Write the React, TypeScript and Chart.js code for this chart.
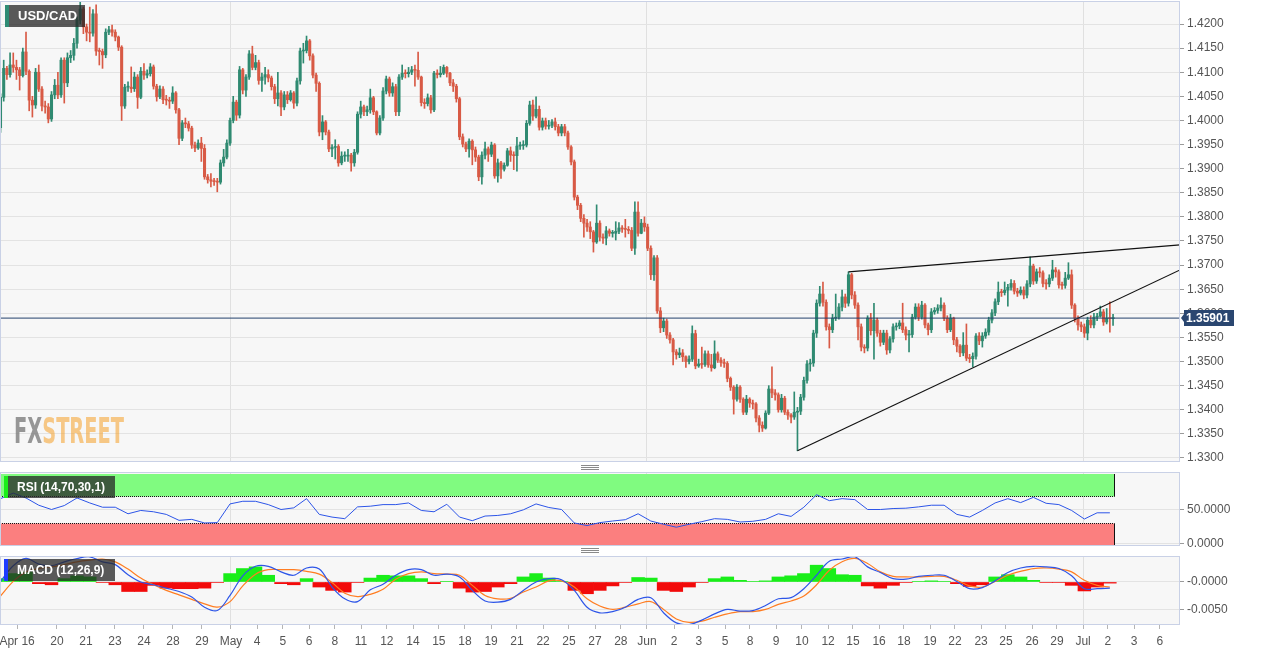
import React, { useEffect, useRef } from 'react';
import { Chart, registerables } from 'chart.js';

Chart.register(...registerables);

// ---------------- DATA ----------------
const symbol = 'USD/CAD';
const firstOpen = 1.3985;

const closes = [
  1.4048,1.4108,1.4095,1.4115,1.4110,1.4105,1.4093,1.4142,1.4102,1.4042,
  1.4032,1.4100,1.4065,1.4030,1.4028,1.4003,1.4053,1.4073,1.4053,1.4125,
  1.4078,1.4130,1.4135,1.4160,1.4208,1.4231,1.4194,1.4183,1.4181,1.4221,
  1.4144,1.4143,1.4136,1.4183,1.4188,1.4183,1.4173,1.4152,1.4030,1.4069,
  1.4069,1.4066,1.4090,1.4048,1.4102,1.4094,1.4097,1.4111,1.4071,1.4049,
  1.4065,1.4043,1.4042,1.4040,1.4057,1.4022,1.3963,1.3995,1.3993,1.3984,
  1.3949,1.3943,1.3953,1.3942,1.3883,1.3877,1.3874,1.3873,1.3872,1.3912,
  1.3924,1.3953,1.4000,1.4038,
  1.4011,1.4105,1.4063,1.4090,1.4138,1.4110,1.4120,1.4083,1.4090,1.4095,
  1.4088,1.4070,1.4045,1.4057,1.4028,1.4053,1.4043,1.4057,1.4036,1.4082,
  1.4144,1.4145,1.4165,1.4134,1.4094,1.4077,1.3976,1.3997,1.3976,1.3941,
  1.3944,1.3946,1.3912,1.3926,1.3926,1.3928,1.3912,1.3934,1.4013,1.4028,
  1.4018,1.4022,1.4047,1.4018,1.3974,1.4005,1.4061,1.4086,1.4057,1.4070,
  1.4018,1.4090,1.4098,1.4097,1.4100,1.4105,1.4104,1.4090,1.4037,1.4035,
  1.4047,1.4022,1.4098,1.4095,1.4098,1.4110,1.4098,1.4078,1.4071,1.4045,
  1.3966,
  1.3951,1.3941,1.3957,1.3939,1.3924,1.3883,1.3928,1.3941,1.3930,1.3949,
  1.3885,1.3912,1.3899,1.3907,1.3937,1.3928,1.3927,1.3947,1.3948,1.3949,
  1.3994,1.4032,1.4009,1.4023,1.3986,1.3999,1.3988,1.3990,1.3997,1.3987,
  1.3974,1.3987,1.3974,1.3945,1.3914,1.3841,1.3824,1.3797,1.3787,1.3779,
  1.3769,1.3748,1.3787,1.3758,1.3756,1.3771,1.3766,1.3766,1.3770,1.3777,
  1.3775,1.3774,1.3772,1.3735,1.3810,1.3766,1.3787,1.3779,1.3735,1.3680,
  1.3715,1.3605,1.3570,1.3584,1.3555,1.3545,1.3520,1.3514,1.3518,1.3510,
  1.3500,1.3505,
  1.3558,1.3491,1.3495,1.3494,1.3516,1.3493,1.3487,1.3516,1.3503,1.3498,
  1.3496,1.3465,1.3447,1.3422,1.3447,1.3422,1.3395,1.3422,1.3414,1.3412,
  1.3383,1.3368,1.3362,1.3393,1.3443,1.3435,1.3431,1.3400,1.3424,1.3395,
  1.3389,1.3385,1.3395,1.3397,1.3426,1.3461,1.3495,1.3497,1.3559,1.3621,
  1.3640,1.3623,1.3572,1.3566,1.3590,1.3592,1.3613,1.3634,1.3621,1.3680,
  1.3638,1.3617,1.3572,1.3530,1.3528,1.3590,1.3564,1.3586,1.3559,1.3540,
  1.3559,1.3524,1.3547,1.3572,1.3574,1.3580,1.3566,1.3555,1.3556,1.3592,
  1.3613,1.3592,
  1.3617,1.3576,1.3566,1.3603,1.3606,1.3611,1.3617,1.3590,1.3566,1.3590,
  1.3545,1.3532,1.3518,1.3534,1.3507,1.3506,1.3511,1.3553,1.3543,1.3553,
  1.3561,1.3586,1.3601,1.3624,1.3644,1.3643,1.3648,1.3654,1.3662,1.3646,
  1.3642,1.3648,1.3638,1.3661,1.3698,1.3667,1.3686,1.3684,1.3662,1.3661,
  1.3673,1.3690,1.3686,1.3659,1.3658,1.3673,1.3680,1.3617,1.3590,1.3576,
  1.3572,1.3559,1.3586,1.3576,1.3592,1.3594,1.3603,1.3582,1.3590,1.3589,
  1.35901,
];

const highs = [
  1.4055,1.4125,1.4112,1.4140,1.4140,1.4125,1.4110,1.4150,1.4183,1.4105,
  1.4050,1.4108,1.4115,1.4070,1.4040,1.4035,1.4060,1.4085,1.4100,1.4130,
  1.4130,1.4140,1.4145,1.4170,1.4215,1.4250,1.4235,1.4200,1.4235,1.4230,
  1.4240,1.4150,1.4148,1.4190,1.4195,1.4198,1.4188,1.4175,1.4155,1.4075,
  1.4080,1.4111,1.4100,1.4095,1.4110,1.4118,1.4105,1.4118,1.4115,1.4075,
  1.4072,1.4070,1.4052,1.4048,1.4070,1.4060,1.4025,1.4000,1.4005,1.3998,
  1.3988,1.3955,1.3960,1.3965,1.3950,1.3888,1.3890,1.3880,1.3880,1.3918,
  1.3940,1.3960,1.4005,1.4050,
  1.4042,1.4112,1.4108,1.4095,1.4145,1.4154,1.4135,1.4125,1.4098,1.4110,
  1.4105,1.4092,1.4075,1.4100,1.4062,1.4060,1.4060,1.4062,1.4060,1.4088,
  1.4150,1.4160,1.4175,1.4168,1.4138,1.4098,1.4080,1.4010,1.4000,1.3980,
  1.3950,1.3960,1.3950,1.3935,1.3935,1.3940,1.3932,1.3940,1.4018,1.4040,
  1.4032,1.4030,1.4065,1.4050,1.4020,1.4010,1.4068,1.4092,1.4090,1.4078,
  1.4075,1.4095,1.4115,1.4105,1.4110,1.4112,1.4115,1.4142,1.4092,1.4045,
  1.4055,1.4052,1.4102,1.4105,1.4112,1.4115,1.4112,1.4100,1.4085,1.4075,
  1.4048,
  1.3972,1.3955,1.3962,1.3960,1.3945,1.3928,1.3935,1.3955,1.3945,1.3955,
  1.3952,1.3920,1.3915,1.3912,1.3942,1.3945,1.3935,1.3965,1.3955,1.3958,
  1.4000,1.4040,1.4042,1.4049,1.4030,1.4005,1.4005,1.4000,1.4002,1.4005,
  1.3992,1.3992,1.3992,1.3978,1.3948,1.3918,1.3845,1.3828,1.3805,1.3795,
  1.3790,1.3772,1.3825,1.3792,1.3765,1.3780,1.3775,1.3772,1.3790,1.3788,
  1.3782,1.3795,1.3780,1.3778,1.3831,1.3831,1.3795,1.3800,1.3785,1.3740,
  1.3720,1.3720,1.3612,1.3590,1.3588,1.3560,1.3548,1.3525,1.3528,1.3525,
  1.3512,1.3512,
  1.3574,1.3565,1.3505,1.3530,1.3522,1.3522,1.3515,1.3543,1.3520,1.3508,
  1.3505,1.3500,1.3468,1.3450,1.3452,1.3450,1.3425,1.3430,1.3425,1.3420,
  1.3415,1.3388,1.3375,1.3398,1.3450,1.3489,1.3442,1.3435,1.3432,1.3428,
  1.3400,1.3392,1.3437,1.3405,1.3432,1.3468,1.3502,1.3505,1.3565,1.3628,
  1.3656,1.3665,1.3628,1.3578,1.3598,1.3640,1.3620,1.3648,1.3640,1.3686,
  1.3683,1.3645,1.3622,1.3578,1.3535,1.3595,1.3600,1.3621,1.3590,1.3565,
  1.3565,1.3565,1.3552,1.3578,1.3580,1.3585,1.3621,1.3572,1.3565,1.3598,
  1.3620,1.3620,
  1.3625,1.3620,1.3580,1.3610,1.3612,1.3618,1.3632,1.3622,1.3595,1.3598,
  1.3592,1.3550,1.3535,1.3560,1.3578,1.3515,1.3518,1.3558,1.3560,1.3560,
  1.3568,1.3592,1.3608,1.3630,1.3665,1.3650,1.3665,1.3660,1.3670,1.3668,
  1.3652,1.3655,1.3655,1.3668,1.3717,1.3702,1.3692,1.3695,1.3688,1.3670,
  1.3680,1.3710,1.3695,1.3690,1.3665,1.3685,1.3705,1.3690,1.3620,1.3595,
  1.3582,1.3578,1.3592,1.3595,1.3600,1.3600,1.3615,1.3608,1.3610,1.3624,
  1.3598,
];

const lows = [
  1.3975,1.4040,1.4085,1.4090,1.4100,1.4085,1.4063,1.4090,1.4095,1.4020,
  1.4007,1.4025,1.4060,1.4020,1.4015,1.3995,1.3998,1.4045,1.4045,1.4048,
  1.4036,1.4070,1.4120,1.4125,1.4150,1.4200,1.4180,1.4165,1.4163,1.4175,
  1.4135,1.4115,1.4108,1.4130,1.4178,1.4175,1.4165,1.4145,1.4000,1.4025,
  1.4060,1.4058,1.4060,1.4025,1.4045,1.4085,1.4088,1.4092,1.4065,1.4040,
  1.4045,1.4035,1.4032,1.4025,1.4035,1.4015,1.3950,1.3958,1.3985,1.3978,
  1.3942,1.3935,1.3940,1.3915,1.3878,1.3870,1.3862,1.3865,1.3852,1.3868,
  1.3905,1.3920,1.3948,1.3995,
  1.4000,1.4005,1.4055,1.4050,1.4085,1.4105,1.4105,1.4075,1.4060,1.4075,
  1.4080,1.4063,1.4035,1.4030,1.4010,1.4022,1.4035,1.4040,1.4025,1.4030,
  1.4075,1.4119,1.4140,1.4125,1.4088,1.4060,1.3968,1.3960,1.3970,1.3935,
  1.3925,1.3920,1.3905,1.3908,1.3915,1.3915,1.3895,1.3905,1.3930,1.4005,
  1.4010,1.4010,1.4015,1.4012,1.3970,1.3970,1.4000,1.4055,1.4050,1.4050,
  1.4010,1.4010,1.4085,1.4088,1.4090,1.4095,1.4071,1.4085,1.4030,1.4025,
  1.4030,1.4015,1.4018,1.4088,1.4090,1.4095,1.4090,1.4072,1.4060,1.4038,
  1.3960,
  1.3945,1.3935,1.3924,1.3908,1.3915,1.3875,1.3868,1.3920,1.3915,1.3925,
  1.3880,1.3872,1.3880,1.3895,1.3905,1.3915,1.3898,1.3895,1.3940,1.3940,
  1.3945,1.3990,1.4000,1.4005,1.3980,1.3980,1.3982,1.3982,1.3985,1.3980,
  1.3968,1.3968,1.3968,1.3940,1.3908,1.3835,1.3815,1.3790,1.3758,1.3770,
  1.3755,1.3727,1.3745,1.3750,1.3745,1.3742,1.3760,1.3758,1.3752,1.3765,
  1.3768,1.3758,1.3765,1.3730,1.3722,1.3760,1.3765,1.3770,1.3730,1.3670,
  1.3668,1.3600,1.3560,1.3562,1.3548,1.3538,1.3493,1.3505,1.3508,1.3500,
  1.3488,1.3495,
  1.3500,1.3485,1.3488,1.3486,1.3490,1.3488,1.3480,1.3485,1.3498,1.3490,
  1.3488,1.3458,1.3440,1.3391,1.3418,1.3415,1.3390,1.3390,1.3405,1.3402,
  1.3375,1.3354,1.3355,1.3360,1.3390,1.3425,1.3420,1.3395,1.3395,1.3390,
  1.3380,1.3373,1.3380,1.3315,1.3390,1.3420,1.3455,1.3480,1.3490,1.3550,
  1.3615,1.3615,1.3565,1.3528,1.3560,1.3585,1.3588,1.3605,1.3612,1.3615,
  1.3630,1.3610,1.3545,1.3522,1.3518,1.3522,1.3555,1.3505,1.3552,1.3532,
  1.3535,1.3515,1.3518,1.3540,1.3565,1.3568,1.3560,1.3545,1.3520,1.3550,
  1.3588,1.3585,
  1.3588,1.3570,1.3555,1.3560,1.3598,1.3600,1.3605,1.3585,1.3560,1.3562,
  1.3535,1.3520,1.3510,1.3512,1.3502,1.3498,1.3489,1.3505,1.3535,1.3530,
  1.3548,1.3555,1.3580,1.3595,1.3618,1.3635,1.3638,1.3615,1.3648,1.3640,
  1.3635,1.3638,1.3630,1.3632,1.3655,1.3660,1.3662,1.3675,1.3655,1.3650,
  1.3655,1.3668,1.3675,1.3652,1.3650,1.3652,1.3670,1.3610,1.3582,1.3565,
  1.3562,1.3550,1.3545,1.3570,1.3570,1.3585,1.3592,1.3575,1.3578,1.3561,
  1.3575,
];

// Price axis ticks
const priceTicks = [
  1.33, 1.335, 1.34, 1.345, 1.35, 1.355, 1.36, 1.365, 1.37, 1.375,
  1.38, 1.385, 1.39, 1.395, 1.4, 1.405, 1.41, 1.415, 1.42,
];

// Time axis labels and their positions (in candle index units)
const timeLabels = [
  'Apr 16','20','21','23','24','28','29','May','4','5','6','8','11','12','14','15',
  '18','19','21','22','25','27','28','Jun','2','3','5','8','9','10','12','15','16',
  '18','19','22','23','25','26','29','Jul','2','3','6',
];
const timePositions = [
  5.2, 17.7, 26.8, 35.9, 45.0, 54.1, 63.2, 72.3, 80.5, 88.6, 96.8, 104.9, 113.1, 121.2, 129.4, 137.5,
  145.7, 153.9, 162.0, 170.2, 178.3, 186.5, 194.6, 202.8, 211.3, 219.1, 227.3, 235.1, 243.3, 251.4, 259.6, 267.4, 275.6,
  283.4, 291.6, 299.4, 307.6, 315.4, 323.6, 331.4, 339.6, 347.4, 355.6, 363.7,
];
const monthLabels = ['May', 'Jun', 'Jul'];

// Trend lines (candle index, price)
const upperTrendTimes = [266, 370];
const upperTrendPrices = [1.3686, 1.3742];
const lowerTrendTimes = [250, 370];
const lowerTrendPrices = [1.3315, 1.3690];

// Indicators, sampled every `indicatorStep` candles
const indicatorStep = 4;
const rsiLabel = 'RSI (14,70,30,1)';
const rsiUpper = 70;
const rsiLower = 30;
const rsiValues = [
  65.7,73.8,66.7,56.2,50,55.7,66.7,59.5,53.3,53.3,
  43.8,48.6,46.7,42.9,34.3,35.7,30.5,31,58.1,61.9,
  61.9,57.1,50,52.4,65.7,42.9,39,36.7,53.8,54.8,
  57.1,57.1,59.5,48.6,46.7,57.6,39,33.8,40.5,41.4,
  43.8,49.5,58.1,52.9,50,30.5,26.7,31,33.3,35.2,
  43.8,33.3,28.6,24.3,28.6,32.4,36.7,35.7,31.9,32.9,
  35.7,43.8,40,53.3,71.4,62.8,65.7,64.3,50,50,
  51.4,51.9,53.8,56.2,56.2,42.9,39,48.6,59.5,65.7,
  60,67.6,59,57.1,48.6,36.2,45.2,45.2,
];
const rsiTicks = [0, 50];

const macdLabel = 'MACD (12,26,9)';
const macdValues = [
  0.0001,0.0029,0.0042,0.0032,0.0029,0.0036,0.0042,0.0045,0.0036,0.0031,
  0.0013,0.0000,-0.0005,-0.0011,-0.0017,-0.0027,-0.0045,-0.0051,-0.0024,0.0011,
  0.0028,0.0028,0.0018,0.0012,0.0025,0.0023,-0.0009,-0.0030,-0.0035,-0.0014,
  -0.0004,0.0012,0.0022,0.0022,0.0012,0.0014,0.0009,-0.0015,-0.0034,-0.0036,
  -0.0031,-0.0015,0.0000,0.0006,0.0004,-0.0015,-0.0045,-0.0055,-0.0053,-0.0045,
  -0.0031,-0.0028,-0.0055,-0.0073,-0.0076,-0.0068,-0.0057,-0.0049,-0.0052,-0.0051,
  -0.0042,-0.0030,-0.0028,-0.0012,0.0012,0.0037,0.0041,0.0045,0.0027,0.0017,
  0.0006,0.0005,0.0010,0.0012,0.0012,0.0001,-0.0012,-0.0010,0.0002,0.0017,
  0.0025,0.0028,0.0027,0.0024,0.0011,-0.0012,-0.0012,-0.0011,
];
const signalValues = [
  -0.0025,0.0001,0.0018,0.0024,0.0027,0.0031,0.0036,0.0039,0.0041,0.0036,
  0.0023,0.0007,-0.0005,-0.0015,-0.0023,-0.0031,-0.0039,-0.0045,-0.0035,-0.0007,
  0.0014,0.0022,0.0022,0.0022,0.0019,0.0014,-0.0001,-0.0020,-0.0026,-0.0022,
  -0.0013,0.0005,0.0015,0.0018,0.0015,0.0014,0.0012,-0.0006,-0.0024,-0.0030,
  -0.0029,-0.0018,-0.0009,0.0002,0.0002,-0.0009,-0.0030,-0.0043,-0.0049,-0.0045,
  -0.0039,-0.0035,-0.0049,-0.0066,-0.0072,-0.0070,-0.0063,-0.0057,-0.0053,-0.0053,
  -0.0049,-0.0040,-0.0034,-0.0025,-0.0005,0.0021,0.0036,0.0042,0.0033,0.0018,
  0.0010,0.0009,0.0009,0.0010,0.0010,0.0003,-0.0007,-0.0009,0.0001,0.0012,
  0.0019,0.0024,0.0025,0.0023,0.0018,0.0003,-0.0006,-0.0009,
];
const histValues = [
  0.0006,0.0015,0.0018,-0.0003,-0.0005,0.0006,0.0011,0.0009,-0.0001,-0.0005,
  -0.0017,-0.0017,-0.0006,-0.0011,-0.0012,-0.0012,-0.0011,-0.0001,0.0015,0.0024,
  0.0027,0.0012,-0.0003,-0.0005,0.0006,-0.0009,-0.0015,-0.0018,-0.0001,0.0007,
  0.0012,0.0011,0.0011,0.0006,-0.0003,0.0001,-0.0011,-0.0018,-0.0017,-0.0009,
  -0.0003,0.0009,0.0015,0.0007,0.0001,-0.0015,-0.0021,-0.0015,-0.0007,-0.0001,
  0.0008,0.0007,-0.0015,-0.0017,-0.0009,-0.0001,0.0006,0.0009,0.0003,0.0001,
  0.0002,0.0009,0.0011,0.0015,0.0030,0.0024,0.0013,0.0012,-0.0007,-0.0011,
  -0.0006,-0.0001,0.0001,0.0002,0.0001,-0.0003,-0.0008,-0.0005,0.0009,0.0013,
  0.0009,0.0003,-0.0001,-0.0001,-0.0006,-0.0016,-0.0009,-0.0002,
];
const macdTicks = [0, -0.005];
const macdTickLabels = ['-0.0000', '-0.0050'];

// ---------------- STYLE / LAYOUT ----------------
const W = 1269;
const X_MIN = -0.16;
const X_MAX = 370;
const PRICE_MIN = 1.32917;
const PRICE_MAX = 1.42477;
const RSI_MIN = -2.9;
const RSI_MAX = 104.35;
const MACD_MIN = -0.00768;
const MACD_MAX = 0.00464;
const AXIS_W = 89;
const FONT = '"Liberation Sans", Arial, Helvetica, sans-serif';
const TICK_COLOR = '#555555';
const GRID = '#e3e3e3';
const FRAME = '#c9d1e6';
const PANEL_BG = '#f7f7f7';
const UP = '#2f8a71';
const DOWN = '#d85a45';
const BLUE = '#2d55e8';
const ORANGE = '#ff7d22';

const fitY = (s: any) => {
  s.width = AXIS_W;
  s.paddingTop = 0;
  s.paddingBottom = 0;
};
const hiddenX = (s: any) => {
  s.height = 0;
  s.paddingLeft = 0;
  s.paddingRight = 0;
};
const setTimeTicks = (s: any) => {
  s.ticks = timePositions.map((v) => ({ value: v }));
};
const monthGrid = (c: any) =>
  monthLabels.includes(timeLabels[c.index]) ? '#e0e0e0' : 'rgba(0,0,0,0)';

const panelPlugin = {
  id: 'panelBg',
  beforeDraw(chart: any) {
    const { ctx, chartArea: a } = chart;
    ctx.save();
    ctx.fillStyle = PANEL_BG;
    ctx.fillRect(a.left, a.top, a.right - a.left, a.bottom - a.top);
    ctx.restore();
  },
  afterDraw(chart: any) {
    const { ctx, chartArea: a } = chart;
    ctx.save();
    ctx.strokeStyle = FRAME;
    ctx.lineWidth = 1;
    ctx.strokeRect(a.left + 0.5, a.top + 0.5, a.right - a.left - 1, a.bottom - a.top - 1);
    ctx.restore();
  },
};

const baseOptions = {
  animation: false,
  responsive: false,
  maintainAspectRatio: false,
  events: [],
  plugins: { legend: { display: false }, tooltip: { enabled: false } },
};

const yTickOpts = {
  color: TICK_COLOR,
  font: { family: FONT, size: 12 },
  padding: 3,
  autoSkip: false,
};

export default function App() {
  const mainRef = useRef<HTMLCanvasElement>(null);
  const rsiRef = useRef<HTMLCanvasElement>(null);
  const macdRef = useRef<HTMLCanvasElement>(null);

  useEffect(() => {
    const n = closes.length;
    const idx = closes.map((_, i) => i);
    const opens = closes.map((_, i) => (i === 0 ? firstOpen : closes[i - 1]));
    const colors = idx.map((i) => (closes[i] >= opens[i] ? UP : DOWN));
    const lastIndex = n - 1;
    const lastPrice = closes[lastIndex];

    const hiddenXScale = {
      type: 'linear',
      min: X_MIN,
      max: X_MAX,
      offset: false,
      afterBuildTicks: setTimeTicks,
      afterFit: hiddenX,
      ticks: { display: false },
      grid: { drawTicks: false, color: monthGrid, offset: false },
      border: { display: false },
    };

    const mainOverlay = {
      id: 'mainOverlay',
      beforeDatasetsDraw(chart: any) {
        const { ctx } = chart;
        ctx.save();
        ctx.font = 'bold 36px "DejaVu Sans Condensed", "Liberation Sans Narrow", "Liberation Sans", sans-serif';
        ctx.textBaseline = 'alphabetic';
        const fxW = ctx.measureText('FX').width;
        const stW = ctx.measureText('STREET').width;
        const sx = 110 / (fxW + stW);
        ctx.translate(14, 443);
        ctx.scale(sx, 1);
        ctx.fillStyle = 'rgba(125,125,125,0.8)';
        ctx.fillText('FX', 0, 0);
        ctx.fillStyle = 'rgba(245,160,40,0.55)';
        ctx.fillText('STREET', fxW, 0);
        ctx.restore();
      },
      afterDraw(chart: any) {
        const { ctx, chartArea: a, scales } = chart;
        const y = Math.round(scales.y.getPixelForValue(lastPrice));
        const x0 = a.right;
        ctx.save();
        ctx.fillStyle = '#2a4670';
        ctx.beginPath();
        ctx.moveTo(x0 + 1, y);
        ctx.lineTo(x0 + 4, y - 4);
        ctx.lineTo(x0 + 4, y - 8);
        ctx.lineTo(x0 + 54, y - 8);
        ctx.lineTo(x0 + 54, y + 8);
        ctx.lineTo(x0 + 4, y + 8);
        ctx.lineTo(x0 + 4, y + 4);
        ctx.closePath();
        ctx.fill();
        ctx.fillStyle = '#ffffff';
        ctx.font = `bold 12px ${FONT}`;
        ctx.textBaseline = 'middle';
        ctx.fillText(lastPrice.toFixed(5), x0 + 6, y + 1);
        ctx.restore();
      },
    };

    const main = new Chart(mainRef.current as HTMLCanvasElement, {
      type: 'bar',
      data: {
        datasets: [
          {
            type: 'line',
            data: [
              { x: X_MIN, y: lastPrice },
              { x: X_MAX, y: lastPrice },
            ],
            borderColor: '#23406c',
            borderWidth: 1,
            pointRadius: 0,
            order: 0,
          },
          {
            type: 'line',
            data: upperTrendTimes.map((t, i) => ({ x: t, y: upperTrendPrices[i] })),
            borderColor: '#111111',
            borderWidth: 1.2,
            pointRadius: 0,
            order: 0,
          },
          {
            type: 'line',
            data: lowerTrendTimes.map((t, i) => ({ x: t, y: lowerTrendPrices[i] })),
            borderColor: '#111111',
            borderWidth: 1.2,
            pointRadius: 0,
            order: 0,
          },
          {
            type: 'bar',
            data: idx.map((i) => ({ x: i, y: [opens[i], closes[i]] })),
            backgroundColor: colors,
            borderWidth: 0,
            barThickness: 2.4,
            minBarLength: 1,
            grouped: false,
            order: 1,
          },
          {
            type: 'bar',
            data: idx.map((i) => ({ x: i, y: [lows[i], highs[i]] })),
            backgroundColor: colors,
            borderWidth: 0,
            barThickness: 1,
            grouped: false,
            order: 2,
          },
        ],
      } as any,
      options: {
        ...baseOptions,
        layout: { padding: { top: 1, bottom: 1, left: 0, right: 0 } },
        scales: {
          x: hiddenXScale,
          y: {
            type: 'linear',
            position: 'right',
            min: PRICE_MIN,
            max: PRICE_MAX,
            afterBuildTicks: (s: any) => {
              s.ticks = priceTicks.map((v) => ({ value: v }));
            },
            afterFit: fitY,
            ticks: { ...yTickOpts, callback: (v: any) => Number(v).toFixed(4) },
            grid: { color: GRID, tickColor: '#9a9a9a', tickLength: 4 },
            border: { display: false },
          },
        },
      } as any,
      plugins: [panelPlugin, mainOverlay],
    });

    const rsiBands = {
      id: 'rsiBands',
      beforeDatasetsDraw(chart: any) {
        const { ctx, chartArea: a, scales } = chart;
        const xr = Math.round(scales.x.getPixelForValue(lastIndex + 0.4)) + 0.5;
        const yTop = scales.y.getPixelForValue(100) - 1;
        const y70 = Math.round(scales.y.getPixelForValue(rsiUpper)) + 0.5;
        const y30 = Math.round(scales.y.getPixelForValue(rsiLower)) + 0.5;
        const y0 = scales.y.getPixelForValue(0) + 1;
        ctx.save();
        ctx.fillStyle = '#80fb80';
        ctx.fillRect(a.left, yTop, xr - a.left, y70 - yTop);
        ctx.fillStyle = '#fb7f7f';
        ctx.fillRect(a.left, y30, xr - a.left, y0 - y30);
        ctx.strokeStyle = '#111';
        ctx.lineWidth = 1;
        ctx.setLineDash([1, 1]);
        ctx.beginPath();
        ctx.moveTo(a.left, y70);
        ctx.lineTo(xr, y70);
        ctx.moveTo(a.left, y30);
        ctx.lineTo(xr, y30);
        ctx.stroke();
        ctx.setLineDash([]);
        ctx.beginPath();
        ctx.moveTo(xr, yTop);
        ctx.lineTo(xr, y70);
        ctx.moveTo(xr, y30);
        ctx.lineTo(xr, y0);
        ctx.moveTo(a.left + 0.5, y30);
        ctx.lineTo(a.left + 0.5, y0);
        ctx.stroke();
        ctx.restore();
      },
    };

    const rsi = new Chart(rsiRef.current as HTMLCanvasElement, {
      type: 'line',
      data: {
        datasets: [
          {
            data: rsiValues.map((v, k) => ({ x: k * indicatorStep, y: v })),
            borderColor: BLUE,
            borderWidth: 1,
            pointRadius: 0,
          },
        ],
      } as any,
      options: {
        ...baseOptions,
        layout: { padding: { top: 6, bottom: 2, left: 0, right: 0 } },
        scales: {
          x: hiddenXScale,
          y: {
            type: 'linear',
            position: 'right',
            min: RSI_MIN,
            max: RSI_MAX,
            afterBuildTicks: (s: any) => {
              s.ticks = rsiTicks.map((v) => ({ value: v }));
            },
            afterFit: fitY,
            ticks: { ...yTickOpts, callback: (v: any) => Number(v).toFixed(4) },
            grid: { color: GRID, tickColor: '#9a9a9a', tickLength: 4 },
            border: { display: false },
          },
        },
      } as any,
      plugins: [panelPlugin, rsiBands],
    });

    const macd = new Chart(macdRef.current as HTMLCanvasElement, {
      type: 'bar',
      data: {
        datasets: [
          {
            type: 'line',
            data: macdValues.map((v, k) => ({ x: k * indicatorStep, y: v })),
            borderColor: BLUE,
            borderWidth: 1.2,
            pointRadius: 0,
            tension: 0.35,
            order: 0,
          },
          {
            type: 'line',
            data: signalValues.map((v, k) => ({ x: k * indicatorStep, y: v })),
            borderColor: ORANGE,
            borderWidth: 1.2,
            pointRadius: 0,
            tension: 0.35,
            order: 1,
          },
          {
            type: 'bar',
            data: histValues.map((v, k) => ({ x: k * indicatorStep, y: v })),
            backgroundColor: histValues.map((v) => (v >= 0 ? '#19ee19' : '#f20a0a')),
            borderWidth: 0,
            barThickness: 12.8,
            grouped: false,
            order: 2,
          },
        ],
      } as any,
      options: {
        ...baseOptions,
        layout: { padding: { top: 6, bottom: 0, left: 0, right: 0 } },
        scales: {
          x: {
            type: 'linear',
            min: X_MIN,
            max: X_MAX,
            offset: false,
            afterBuildTicks: setTimeTicks,
            afterFit: (s: any) => {
              s.height = 30;
              s.paddingLeft = 0;
              s.paddingRight = 0;
            },
            ticks: {
              color: TICK_COLOR,
              font: { family: FONT, size: 12 },
              padding: 5,
              maxRotation: 0,
              minRotation: 0,
              autoSkip: false,
              callback: (_v: any, i: number) => timeLabels[i],
            },
            grid: { color: monthGrid, tickColor: '#b5b5b5', tickLength: 4, offset: false },
            border: { display: false },
          },
          y: {
            type: 'linear',
            position: 'right',
            min: MACD_MIN,
            max: MACD_MAX,
            afterBuildTicks: (s: any) => {
              s.ticks = macdTicks.map((v) => ({ value: v }));
            },
            afterFit: fitY,
            ticks: { ...yTickOpts, callback: (_v: any, i: number) => macdTickLabels[i] },
            grid: { color: GRID, tickColor: '#9a9a9a', tickLength: 4 },
            border: { display: false },
          },
        },
      } as any,
      plugins: [panelPlugin],
    });

    return () => {
      main.destroy();
      rsi.destroy();
      macd.destroy();
    };
  }, []);

  const labelBox = (left: number, top: number, width: number, stripe: string, text: string, size: number) => (
    <div
      style={{
        position: 'absolute',
        left,
        top,
        width,
        height: 22,
        background: 'rgba(40,40,40,0.76)',
      }}
    >
      <div style={{ position: 'absolute', left: 0, top: 0, width: 4, height: 22, background: stripe }} />
      <span
        style={{
          position: 'absolute',
          left: 13,
          top: 0,
          lineHeight: '22px',
          color: '#ffffff',
          fontFamily: FONT,
          fontWeight: 'bold',
          fontSize: size,
          whiteSpace: 'nowrap',
        }}
      >
        {text}
      </span>
    </div>
  );

  const handle = (top: number) => (
    <div style={{ position: 'absolute', left: 581, top, width: 18, height: 5 }}>
      <div style={{ position: 'absolute', left: 0, top: 0, width: 18, height: 1, background: '#8a8a8a' }} />
      <div style={{ position: 'absolute', left: 0, top: 2, width: 18, height: 1, background: '#8a8a8a' }} />
      <div style={{ position: 'absolute', left: 0, top: 4, width: 18, height: 1, background: '#8a8a8a' }} />
    </div>
  );

  return (
    <div style={{ position: 'absolute', left: 0, top: 0, width: W, height: 655, background: '#ffffff', overflow: 'hidden' }}>
      <canvas ref={mainRef} width={W} height={463} style={{ position: 'absolute', left: 0, top: 0, display: 'block' }} />
      <canvas ref={rsiRef} width={W} height={82} style={{ position: 'absolute', left: 0, top: 466, display: 'block' }} />
      <canvas ref={macdRef} width={W} height={105} style={{ position: 'absolute', left: 0, top: 550, display: 'block' }} />
      {labelBox(5, 5, 80, '#2e8b74', symbol, 13)}
      {labelBox(4, 476, 111, '#19ee19', rsiLabel, 12)}
      {labelBox(4, 559, 111, '#1e3cff', macdLabel, 12)}
      {handle(465)}
      {handle(548)}
    </div>
  );
}
